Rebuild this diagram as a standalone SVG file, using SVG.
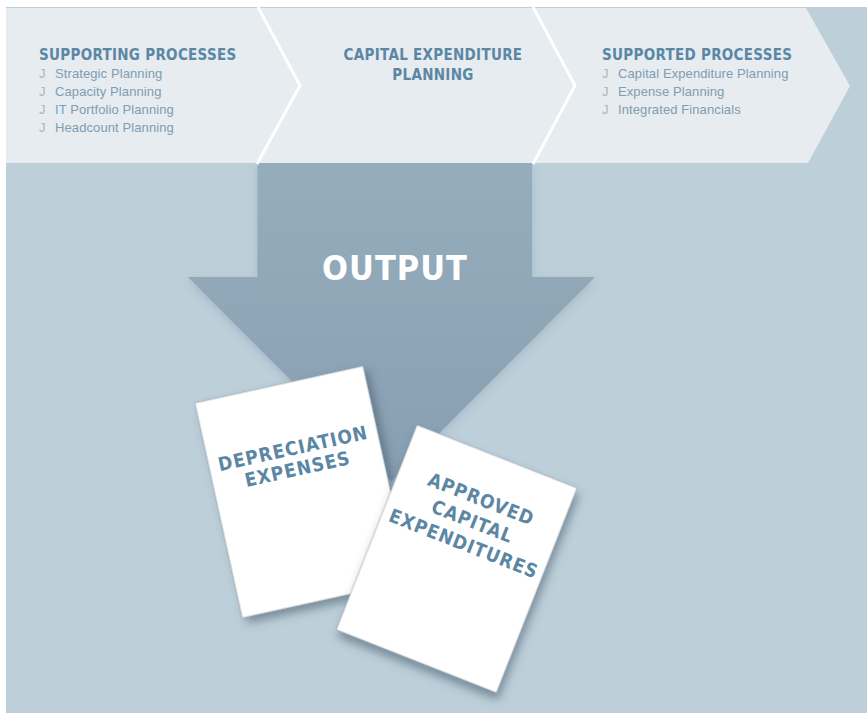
<svg xmlns="http://www.w3.org/2000/svg" width="867" height="713" viewBox="0 0 867 713">
<defs>
<style>
.hd{font-family:"DejaVu Sans Condensed","DejaVu Sans",sans-serif;font-stretch:condensed;font-weight:bold;font-size:15px;fill:#5b87a4;letter-spacing:0.3px}
.it{font-family:"Liberation Sans",Arial,sans-serif;font-size:13px;fill:#7f9db3;letter-spacing:0.1px}
.bl{font-family:"Liberation Sans",Arial,sans-serif;font-size:13px;fill:#a3b8c7}
.dt{font-family:"DejaVu Sans Condensed","DejaVu Sans",sans-serif;font-stretch:condensed;font-weight:bold;font-size:19px;fill:#5b87a4;letter-spacing:1px;text-anchor:middle}
.chev{fill:#e6ecf0}
.gap{fill:none;stroke:#ffffff;stroke-width:3}
.doc{fill:#ffffff;stroke:#8e9ca6;stroke-width:0.6}
</style>
<linearGradient id="ag" x1="0" y1="0" x2="0" y2="1">
<stop offset="0" stop-color="#96adbd"/>
<stop offset="1" stop-color="#889fb2"/>
</linearGradient>
<filter id="sh" x="-20%" y="-20%" width="150%" height="150%">
<feDropShadow dx="4" dy="6" stdDeviation="5" flood-color="#3d5566" flood-opacity="0.55"/>
</filter>
<filter id="ash" x="-10%" y="-10%" width="120%" height="130%">
<feDropShadow dx="0" dy="3" stdDeviation="4" flood-color="#5a7184" flood-opacity="0.25"/>
</filter>
</defs>
<rect x="0" y="0" width="867" height="713" fill="#ffffff"/>
<rect x="6" y="7" width="861" height="706" fill="#bdcfd9"/>

<g id="output-arrow">
<polygon points="257.5,163 532,163 532,277 595,277 391.5,481 188,277 257.5,277" fill="url(#ag)" filter="url(#ash)"/>
<text x="395" y="280" font-family="'DejaVu Sans Condensed','DejaVu Sans',sans-serif" font-stretch="condensed" font-weight="bold" font-size="34" fill="#ffffff" text-anchor="middle" letter-spacing="1">OUTPUT</text>
</g>

<g id="supporting-processes">
<polygon class="chev" points="6,8 258,8 300,85.5 258,163 6,163"/>
<text class="hd" x="39" y="60">SUPPORTING PROCESSES</text>
<text class="bl" x="39" y="78">J</text><text class="it" x="55" y="78">Strategic Planning</text>
<text class="bl" x="39" y="96">J</text><text class="it" x="55" y="96">Capacity Planning</text>
<text class="bl" x="39" y="114">J</text><text class="it" x="55" y="114">IT Portfolio Planning</text>
<text class="bl" x="39" y="132">J</text><text class="it" x="55" y="132">Headcount Planning</text>
</g>

<g id="capital-expenditure-planning">
<polygon class="chev" points="258,8 533,8 575,85.5 533,163 258,163 300,85.5"/>
<text class="hd" x="433" y="60" text-anchor="middle">CAPITAL EXPENDITURE</text>
<text class="hd" x="433" y="80" text-anchor="middle">PLANNING</text>
</g>

<g id="supported-processes">
<polygon class="chev" points="533,8 806,8 850,86 808,163 533,163 575,85.5"/>
<text class="hd" x="602" y="60">SUPPORTED PROCESSES</text>
<text class="bl" x="602" y="78">J</text><text class="it" x="618" y="78">Capital Expenditure Planning</text>
<text class="bl" x="602" y="96">J</text><text class="it" x="618" y="96">Expense Planning</text>
<text class="bl" x="602" y="114">J</text><text class="it" x="618" y="114">Integrated Financials</text>
</g>

<g id="connectors">
<polyline class="gap" points="258,7 300,85.5 257,164"/>
<polyline class="gap" points="533,7 575,85.5 533,164"/>
</g>

<g id="depreciation-expenses" transform="translate(195,403) rotate(-12.4)">
<rect class="doc" x="0" y="0" width="172" height="220" filter="url(#sh)"/>
<text class="dt" x="86" y="72">DEPRECIATION</text>
<text class="dt" x="86" y="93">EXPENSES</text>
</g>

<g id="approved-capital-expenditures" transform="translate(417,425) rotate(21.5)">
<rect class="doc" x="0" y="0" width="172" height="220" filter="url(#sh)"/>
<text class="dt" x="87" y="52">APPROVED</text>
<text class="dt" x="87" y="76">CAPITAL</text>
<text class="dt" x="87" y="100">EXPENDITURES</text>
</g>
</svg>
